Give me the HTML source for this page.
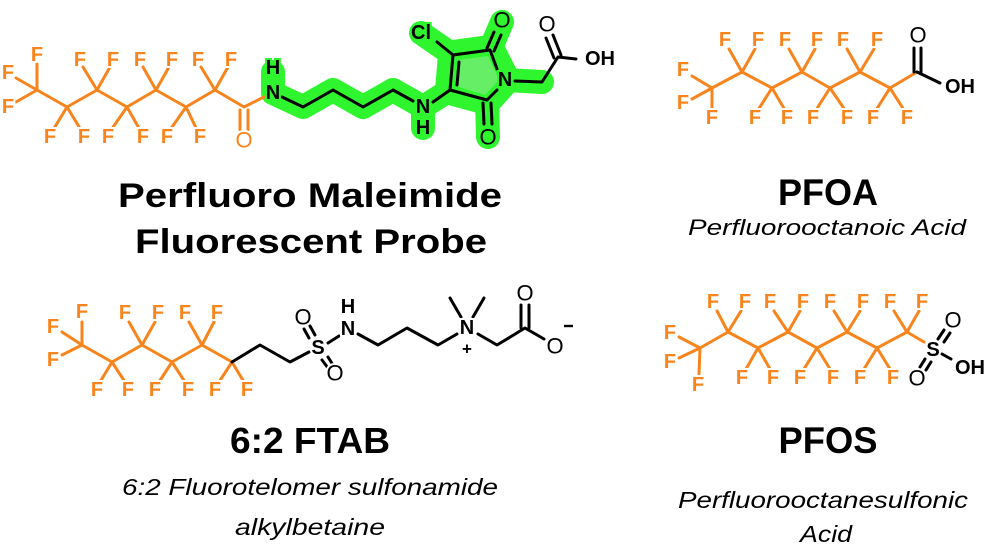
<!DOCTYPE html>
<html><head><meta charset="utf-8">
<style>
html,body{margin:0;padding:0;background:#fff;}
svg{display:block;}
.o{stroke:#f7841c;stroke-width:3;fill:none;stroke-linecap:round;stroke-linejoin:round;}
.k{stroke:#000;stroke-width:3;fill:none;stroke-linecap:round;stroke-linejoin:round;}
.g{stroke:#2ef52e;stroke-width:24;fill:none;stroke-linecap:round;stroke-linejoin:round;}
.F{font-family:"Liberation Sans",sans-serif;font-weight:bold;font-size:20px;fill:#f7841c;text-anchor:middle;dominant-baseline:central;stroke:#fff;stroke-width:4;paint-order:stroke;}
.A{font-family:"Liberation Sans",sans-serif;font-weight:bold;font-size:20px;fill:#000;text-anchor:middle;dominant-baseline:central;stroke:#fff;stroke-width:4;paint-order:stroke;}
.AG{stroke:#2ef52e;}
.T{font-family:"Liberation Sans",sans-serif;font-weight:bold;fill:#000;text-anchor:middle;}
.I{font-family:"Liberation Sans",sans-serif;font-style:italic;fill:#000;text-anchor:middle;}
</style></head><body>
<svg width="993" height="552" viewBox="0 0 993 552" xmlns="http://www.w3.org/2000/svg">
<!-- ===== Top-left probe ===== -->
<polyline class="g" points="273,72 273,93 303,107 333,90 363,107 393,90 423,107 423,128"/>
<polyline class="g" points="423,107 450,90 453,55 421,33"/>
<polygon class="g" points="453,55 490,50 505,80 487,100 450,90" style="stroke-width:30"/>
<polyline class="g" points="490,50 502,22"/>
<polyline class="g" points="487,100 488,137"/>
<polyline class="g" points="505,80 542,82"/>
<polygon points="458,60 488,56 499,80 485,95 456,86" fill="#66ee66"/>
<polyline class="o" points="37,90 67,107 97,90 127,107 156,90 186,107 215,90 244,107 264,97"/>
<line class="o" x1="240" y1="110" x2="240" y2="130"/><line class="o" x1="248" y1="110" x2="248" y2="130"/>
<line class="o" x1="37" y1="90" x2="37" y2="64"/><line class="o" x1="37" y1="90" x2="16" y2="78"/><line class="o" x1="37" y1="90" x2="16" y2="102"/>
<line class="o" x1="67" y1="107" x2="53" y2="130"/><line class="o" x1="67" y1="107" x2="81" y2="130"/>
<line class="o" x1="97" y1="90" x2="83" y2="67"/><line class="o" x1="97" y1="90" x2="110" y2="67"/>
<line class="o" x1="127" y1="107" x2="111" y2="130"/><line class="o" x1="127" y1="107" x2="140" y2="130"/>
<line class="o" x1="156" y1="90" x2="143" y2="67"/><line class="o" x1="156" y1="90" x2="169" y2="67"/>
<line class="o" x1="186" y1="107" x2="170" y2="130"/><line class="o" x1="186" y1="107" x2="197" y2="130"/>
<line class="o" x1="215" y1="90" x2="201" y2="67"/><line class="o" x1="215" y1="90" x2="228" y2="67"/>
<text class="F" x="37" y="55">F</text><text class="F" x="8" y="73">F</text><text class="F" x="8" y="107">F</text>
<text class="F" x="50" y="137">F</text><text class="F" x="84" y="137">F</text>
<text class="F" x="80" y="60">F</text><text class="F" x="113" y="60">F</text>
<text class="F" x="108" y="137">F</text><text class="F" x="143" y="137">F</text>
<text class="F" x="140" y="60">F</text><text class="F" x="172" y="60">F</text>
<text class="F" x="167" y="137">F</text><text class="F" x="200" y="137">F</text>
<text class="F" x="198" y="60">F</text><text class="F" x="231" y="60">F</text>
<text class="F" x="244" y="140" style="font-weight:normal;font-size:22px">O</text>
<polyline class="k" points="282,97 303,107 333,90 363,107 393,90 413,101"/>
<line class="k" x1="433" y1="102" x2="450" y2="90"/>
<polyline class="k" points="453,55 490,50 497,69"/>
<line class="k" x1="453" y1="55" x2="450" y2="90"/>
<line class="k" x1="459" y1="62" x2="457" y2="85"/>
<line class="k" x1="450" y1="90" x2="487" y2="100"/>
<line class="k" x1="487" y1="100" x2="497" y2="90"/>
<line class="k" x1="453" y1="55" x2="437" y2="42"/>
<line class="k" x1="487" y1="48" x2="494" y2="32"/><line class="k" x1="494" y1="51" x2="501" y2="35"/>
<line class="k" x1="483" y1="103" x2="484" y2="124"/><line class="k" x1="491" y1="103" x2="492" y2="124"/>
<polyline class="k" points="515,81 542,82 558,57 576,59"/>
<line class="k" x1="554" y1="58" x2="546" y2="38"/><line class="k" x1="561" y1="55" x2="553" y2="35"/>
<text class="A AG" x="273" y="68">H</text><text class="A AG" x="273" y="93">N</text>
<text class="A AG" x="423" y="107">N</text><text class="A AG" x="423" y="128">H</text>
<text class="A AG" x="421" y="33">Cl</text>
<text class="A AG" x="505" y="80">N</text>
<text class="A AG" x="502" y="20" style="font-weight:normal;font-size:22px">O</text>
<text class="A AG" x="488" y="137" style="font-weight:normal;font-size:22px">O</text>
<text class="A" x="547" y="24" style="font-weight:normal;font-size:22px">O</text>
<text class="A" x="600" y="59">OH</text>
<text class="T" x="310" y="207" font-size="34" textLength="384" lengthAdjust="spacingAndGlyphs">Perfluoro Maleimide</text>
<text class="T" x="311" y="253" font-size="34" textLength="352" lengthAdjust="spacingAndGlyphs">Fluorescent Probe</text>

<!-- ===== PFOA ===== -->
<polyline class="o" points="712,88 742,72 772,88 802,72 830,88 860,72 890,88 917,72"/>
<line class="o" x1="712" y1="88" x2="692" y2="76"/><line class="o" x1="712" y1="88" x2="692" y2="99"/><line class="o" x1="712" y1="88" x2="712" y2="108"/>
<line class="o" x1="742" y1="72" x2="729" y2="49"/><line class="o" x1="742" y1="72" x2="755" y2="49"/>
<line class="o" x1="772" y1="88" x2="758" y2="110"/><line class="o" x1="772" y1="88" x2="785" y2="110"/>
<line class="o" x1="802" y1="72" x2="789" y2="49"/><line class="o" x1="802" y1="72" x2="815" y2="49"/>
<line class="o" x1="830" y1="88" x2="816" y2="110"/><line class="o" x1="830" y1="88" x2="845" y2="110"/>
<line class="o" x1="860" y1="72" x2="847" y2="49"/><line class="o" x1="860" y1="72" x2="874" y2="49"/>
<line class="o" x1="890" y1="88" x2="876" y2="110"/><line class="o" x1="890" y1="88" x2="904" y2="110"/>
<text class="F" x="683" y="70">F</text><text class="F" x="683" y="103">F</text><text class="F" x="712" y="118">F</text>
<text class="F" x="725" y="40">F</text><text class="F" x="758" y="40">F</text>
<text class="F" x="755" y="118">F</text><text class="F" x="787" y="118">F</text>
<text class="F" x="785" y="40">F</text><text class="F" x="817" y="40">F</text>
<text class="F" x="813" y="118">F</text><text class="F" x="847" y="118">F</text>
<text class="F" x="843" y="40">F</text><text class="F" x="877" y="40">F</text>
<text class="F" x="873" y="118">F</text><text class="F" x="907" y="118">F</text>
<line class="k" x1="917" y1="72" x2="940" y2="83"/>
<line class="k" x1="914" y1="72" x2="914" y2="48"/><line class="k" x1="921" y1="72" x2="921" y2="48"/>
<text class="A" x="918" y="35" style="font-weight:normal;font-size:22px">O</text>
<text class="A" x="960" y="87">OH</text>
<text class="T" x="828" y="205" font-size="37" textLength="100" lengthAdjust="spacingAndGlyphs">PFOA</text>
<text class="I" x="827" y="235" font-size="22" textLength="278" lengthAdjust="spacingAndGlyphs">Perfluorooctanoic Acid</text>

<!-- ===== FTAB ===== -->
<polyline class="o" points="82,345 112,362 142,345 172,362 202,345 232,362"/>
<line class="o" x1="82" y1="345" x2="82" y2="322"/><line class="o" x1="82" y1="345" x2="62" y2="332"/><line class="o" x1="82" y1="345" x2="62" y2="355"/>
<line class="o" x1="112" y1="362" x2="100" y2="382"/><line class="o" x1="112" y1="362" x2="125" y2="382"/>
<line class="o" x1="142" y1="345" x2="129" y2="322"/><line class="o" x1="142" y1="345" x2="155" y2="322"/>
<line class="o" x1="172" y1="362" x2="159" y2="382"/><line class="o" x1="172" y1="362" x2="185" y2="382"/>
<line class="o" x1="202" y1="345" x2="189" y2="322"/><line class="o" x1="202" y1="345" x2="214" y2="322"/>
<line class="o" x1="232" y1="362" x2="219" y2="382"/><line class="o" x1="232" y1="362" x2="244" y2="382"/>
<text class="F" x="82" y="312">F</text><text class="F" x="53" y="327">F</text><text class="F" x="53" y="360">F</text>
<text class="F" x="97" y="390">F</text><text class="F" x="128" y="390">F</text>
<text class="F" x="125" y="313">F</text><text class="F" x="158" y="313">F</text>
<text class="F" x="155" y="390">F</text><text class="F" x="188" y="390">F</text>
<text class="F" x="185" y="313">F</text><text class="F" x="217" y="313">F</text>
<text class="F" x="215" y="390">F</text><text class="F" x="247" y="390">F</text>
<polyline class="k" points="232,362 260,345 290,362 309,352"/>
<line class="k" x1="328" y1="343" x2="339" y2="336"/>
<line class="k" x1="309" y1="338" x2="304" y2="329"/><line class="k" x1="315" y1="335" x2="310" y2="326"/>
<line class="k" x1="322" y1="360" x2="328" y2="368"/><line class="k" x1="328" y1="357" x2="333" y2="365"/>
<polyline class="k" points="358,334 378,345 407,328 438,345 457,334"/>
<line class="k" x1="461" y1="317" x2="450" y2="298"/><line class="k" x1="473" y1="317" x2="484" y2="298"/>
<polyline class="k" points="478,334 497,345 525,328 544,339"/>
<line class="k" x1="521" y1="328" x2="521" y2="305"/><line class="k" x1="529" y1="328" x2="529" y2="305"/>
<text class="A" x="318" y="348">S</text>
<text class="A" x="303" y="317" style="font-weight:normal;font-size:22px">O</text>
<text class="A" x="335" y="373" style="font-weight:normal;font-size:22px">O</text>
<text class="A" x="348" y="307">H</text><text class="A" x="348" y="329">N</text>
<text class="A" x="467" y="328">N</text>
<text class="A" x="467" y="349" style="font-size:17px">+</text>
<text class="A" x="525" y="293" style="font-weight:normal;font-size:22px">O</text>
<text class="A" x="555" y="346" style="font-weight:normal;font-size:22px">O</text>
<line x1="564" y1="326" x2="573" y2="326" stroke="#000" stroke-width="2.4"/>
<text class="T" x="310" y="453" font-size="36" textLength="160" lengthAdjust="spacingAndGlyphs">6:2 FTAB</text>
<text class="I" x="310" y="495" font-size="23" textLength="376" lengthAdjust="spacingAndGlyphs">6:2 Fluorotelomer sulfonamide</text>
<text class="I" x="310" y="535" font-size="23" textLength="150" lengthAdjust="spacingAndGlyphs">alkylbetaine</text>

<!-- ===== PFOS ===== -->
<polyline class="o" points="700,348 728,332 758,348 788,332 817,348 847,332 877,348 907,332"/>
<line class="o" x1="700" y1="348" x2="679" y2="337"/><line class="o" x1="700" y1="348" x2="679" y2="358"/><line class="o" x1="700" y1="348" x2="699" y2="374"/>
<line class="o" x1="728" y1="332" x2="717" y2="311"/><line class="o" x1="728" y1="332" x2="741" y2="311"/>
<line class="o" x1="758" y1="348" x2="746" y2="369"/><line class="o" x1="758" y1="348" x2="770" y2="369"/>
<line class="o" x1="788" y1="332" x2="774" y2="311"/><line class="o" x1="788" y1="332" x2="800" y2="311"/>
<line class="o" x1="817" y1="348" x2="804" y2="369"/><line class="o" x1="817" y1="348" x2="830" y2="369"/>
<line class="o" x1="847" y1="332" x2="834" y2="311"/><line class="o" x1="847" y1="332" x2="860" y2="311"/>
<line class="o" x1="877" y1="348" x2="864" y2="369"/><line class="o" x1="877" y1="348" x2="890" y2="369"/>
<line class="o" x1="907" y1="332" x2="894" y2="311"/><line class="o" x1="907" y1="332" x2="919" y2="311"/>
<line class="o" x1="907" y1="332" x2="924" y2="342"/>
<text class="F" x="670" y="333">F</text><text class="F" x="670" y="362">F</text><text class="F" x="698" y="385">F</text>
<text class="F" x="713" y="302">F</text><text class="F" x="745" y="302">F</text>
<text class="F" x="742" y="378">F</text><text class="F" x="773" y="378">F</text>
<text class="F" x="770" y="302">F</text><text class="F" x="803" y="302">F</text>
<text class="F" x="800" y="378">F</text><text class="F" x="833" y="378">F</text>
<text class="F" x="830" y="302">F</text><text class="F" x="863" y="302">F</text>
<text class="F" x="860" y="378">F</text><text class="F" x="893" y="378">F</text>
<text class="F" x="890" y="302">F</text><text class="F" x="922" y="302">F</text>
<line class="k" x1="938" y1="339" x2="944" y2="330"/><line class="k" x1="944" y1="342" x2="950" y2="333"/>
<line class="k" x1="925" y1="359" x2="920" y2="367"/><line class="k" x1="931" y1="362" x2="926" y2="370"/>
<line class="k" x1="942" y1="354" x2="951" y2="359"/>
<text class="A" x="933" y="350">S</text>
<text class="A" x="953" y="320" style="font-weight:normal;font-size:22px">O</text>
<text class="A" x="917" y="378" style="font-weight:normal;font-size:22px">O</text>
<text class="A" x="970" y="368">OH</text>
<text class="T" x="828" y="453" font-size="37" textLength="99" lengthAdjust="spacingAndGlyphs">PFOS</text>
<text class="I" x="823" y="508" font-size="23" textLength="290" lengthAdjust="spacingAndGlyphs">Perfluorooctanesulfonic</text>
<text class="I" x="826" y="542" font-size="23" textLength="52" lengthAdjust="spacingAndGlyphs">Acid</text>
</svg>
</body></html>
